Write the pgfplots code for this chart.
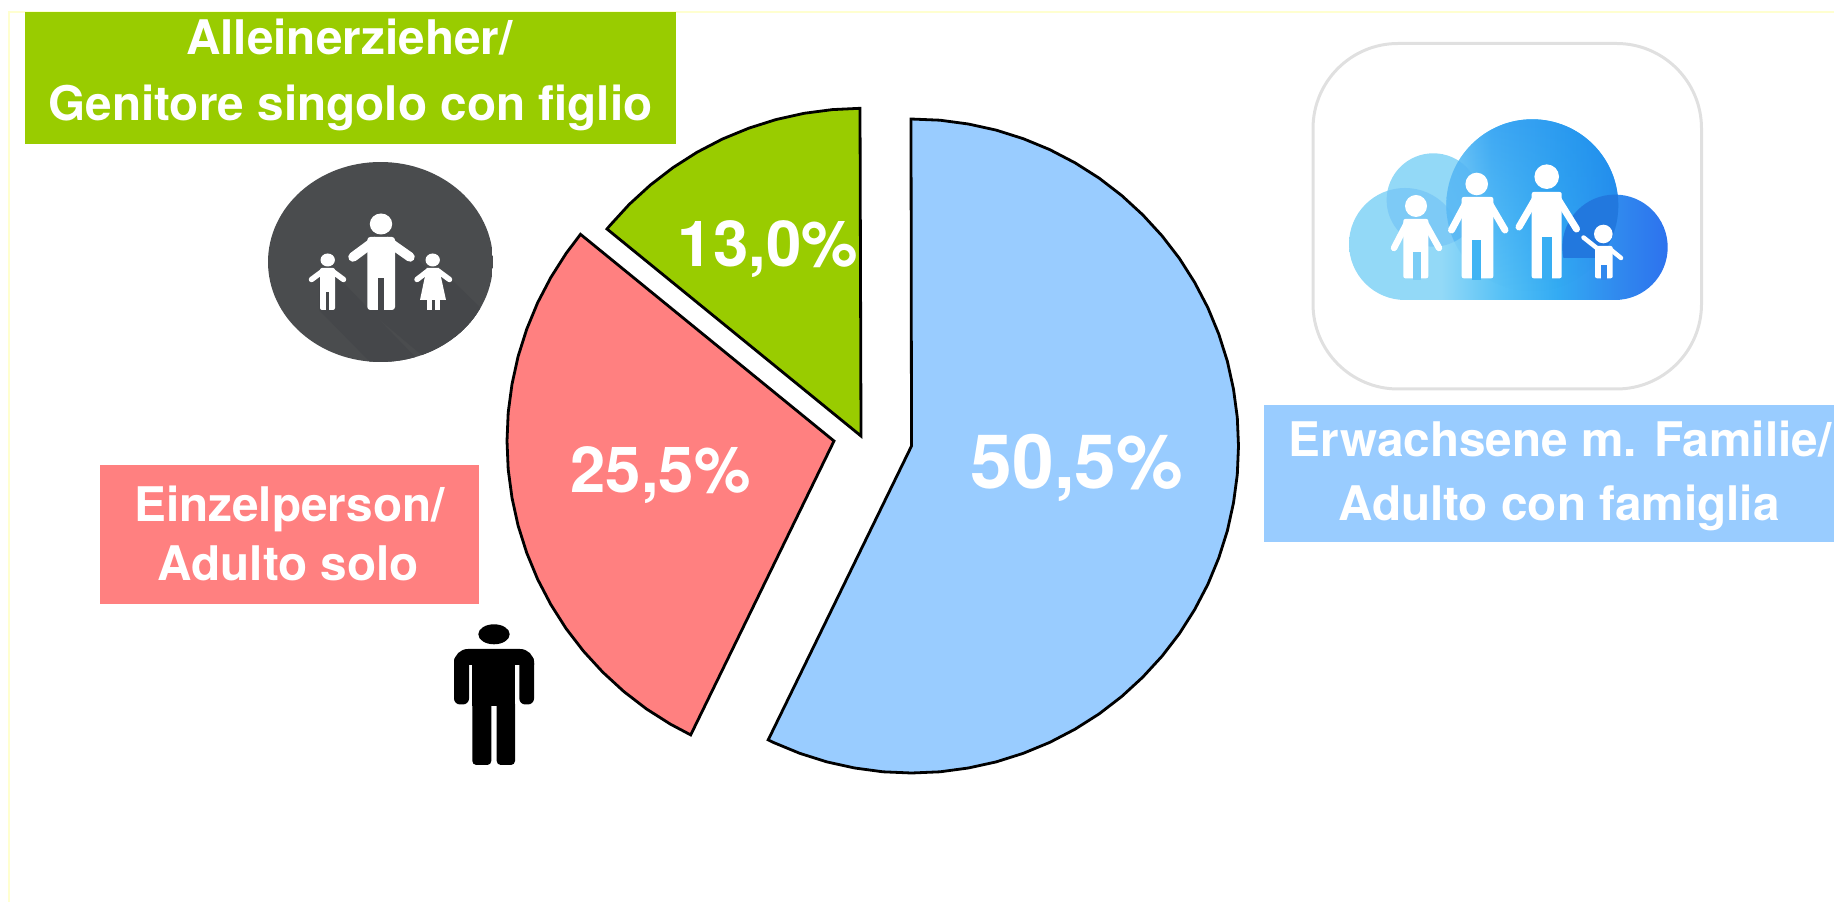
\documentclass[border=0pt]{standalone}
\usepackage{fontspec}
\setmainfont{TeX Gyre Heros}
\usepackage{pgfplots}
\pgfplotsset{compat=1.18}
\usetikzlibrary{fadings}
\definecolor{pgreen}{HTML}{99CC00}
\definecolor{pred}{HTML}{FF8080}
\definecolor{pblue}{HTML}{99CCFF}
\definecolor{framey}{HTML}{FFFFD0}
\definecolor{darkico}{HTML}{4A4C4E}
\definecolor{darkshadow}{HTML}{45474A}
\definecolor{c1}{HTML}{93D9F7}
\definecolor{c2}{HTML}{55C0F6}
\definecolor{c3}{HTML}{33ABF3}
\definecolor{c4}{HTML}{3088EE}
\definecolor{c5}{HTML}{2D72EE}
\definecolor{l1}{HTML}{6CC4F6}
\definecolor{l2}{HTML}{3EA8F3}
\definecolor{l3}{HTML}{1C8FEC}
\definecolor{ov1}{HTML}{7DCAF6}
\definecolor{ov2}{HTML}{55B6F4}
\definecolor{ov3}{HTML}{2278DE}
\definecolor{g1}{HTML}{40B4F4}
\definecolor{g2}{HTML}{38AEF3}
\definecolor{g3}{HTML}{7BCDF6}
\definecolor{g4}{HTML}{3088EE}
\pgfdeclarehorizontalshading{cloudbase}{100bp}{color(0bp)=(c1);color(25bp)=(c1);color(39.4bp)=(c1);color(49.2bp)=(c2);color(57.7bp)=(c3);color(67.5bp)=(c4);color(75bp)=(c5);color(100bp)=(c5)}
\pgfdeclarehorizontalshading{cloudlobe}{100bp}{color(0bp)=(l1);color(25bp)=(l1);color(38bp)=(l2);color(75bp)=(l3);color(100bp)=(l3)}
\tikzfading[name=lobefade,top color=transparent!0,middle color=transparent!5,bottom color=transparent!100]
\newcommand{\lab}{\bfseries\fontsize{47.7}{50}\selectfont}
\newcommand{\pc}{\bfseries\fontsize{63.5}{66}\selectfont}
\newcommand{\pcb}{\bfseries\fontsize{75}{78}\selectfont}
\begin{document}
\begin{tikzpicture}
\useasboundingbox (0,0) rectangle (1834pt,902pt);
\begin{axis}[
  at={(0,0)},anchor=south west,
  scale only axis,width=1834pt,height=902pt,
  xmin=0,xmax=1834,ymin=0,ymax=902,y dir=reverse,
  hide axis,clip=false]
% frame
\addplot[framey,line width=2pt,mark=none] coordinates {(1834,11.5)(9,11.5)(9,902)};
% label boxes
\addplot[fill=pgreen,draw=none,mark=none] coordinates {(24.5,11.7)(676,11.7)(676,144)(24.5,144)} --cycle;
\addplot[fill=pred,draw=none,mark=none] coordinates {(100,465)(479,465)(479,603.5)(100,603.5)} --cycle;
\addplot[fill=pblue,draw=none,mark=none] coordinates {(1264,405)(1834,405)(1834,541.7)(1264,541.7)} --cycle;
% blue wedge
\addplot[fill=pblue,draw=black,line width=2.8pt,mark=none] coordinates {
(911.5,446)(911.0,119)(940,120.2)(968.3,124)(996.1,130.1)(1023.3,138.7)(1049.7,149.6)(1075,162.8)(1099.1,178.1)(1121.7,195.5)(1142.7,214.8)(1162,235.8)(1179.4,258.4)(1194.7,282.5)(1207.9,307.8)(1218.8,334.2)(1227.4,361.4)(1233.5,389.2)(1237.3,417.5)(1238.5,446)(1237.3,474.5)(1233.5,502.8)(1227.4,530.6)(1218.8,557.8)(1207.9,584.2)(1194.7,609.5)(1179.4,633.6)(1162,656.2)(1142.7,677.2)(1121.7,696.5)(1099.1,713.9)(1075,729.2)(1049.7,742.4)(1023.3,753.3)(996.1,761.9)(968.3,768)(940,771.8)(911.5,773)(883,771.8)(854.7,768)(826.9,761.9)(799.7,753.3)(773.3,742.4)(768.2,739.9)} --cycle;
% red wedge
\addplot[fill=pred,draw=black,line width=2.8pt,mark=none] coordinates {
(834,441)(690.7,734.9)(670.5,724.2)(646.4,708.9)(623.8,691.5)(602.8,672.2)(583.5,651.2)(566.1,628.6)(550.8,604.5)(537.6,579.2)(526.7,552.8)(518.1,525.6)(512,497.8)(508.2,469.5)(507,441)(508.2,412.5)(512,384.2)(518.1,356.4)(526.7,329.2)(537.6,302.8)(550.8,277.5)(566.1,253.4)(580.5,234.3)} --cycle;
% green wedge
\addplot[fill=pgreen,draw=black,line width=2.8pt,mark=none] coordinates {
(861,436)(607,229)(610,225.4)(629.3,204.3)(650.4,185)(673,167.6)(697.1,152.2)(722.5,139)(749,128.1)(776.2,119.5)(804.1,113.3)(832.4,109.6)(860,108.3)} --cycle;
% labels
\node[white,anchor=base] at (axis cs:349.5,54.3) {\lab Alleinerzieher/};
\node[white,anchor=base] at (axis cs:350.5,120.7) {\lab Genitore singolo con figlio};
\node[white,anchor=base] at (axis cs:289.5,521.7) {\lab Einzelperson/};
\node[white,anchor=base] at (axis cs:288.5,580) {\lab Adulto solo};
\node[white,anchor=base] at (axis cs:1560,456.7) {\lab Erwachsene m. Familie/};
\node[white,anchor=base] at (axis cs:1559,520) {\lab Adulto con famiglia};
\node[white,anchor=base] at (axis cs:768,266) {\pc 13,0\%};
\node[white,anchor=base] at (axis cs:660.5,492) {\pc 25,5\%};
\node[white,anchor=base] at (axis cs:1077,488) {\pcb 50,5\%};
\end{axis}
\begin{scope}[x=1pt,y=-1pt,yshift=902pt]
% ---- dark icon
\begin{scope}
\clip (380.5,262) ellipse [x radius=112.5,y radius=100];
\fill[darkico] (268,162) rectangle (493,362);
\fill[darkshadow] (368,250) -- (394,238) -- (494,330) -- (430,362) -- (368,310) -- cycle;
\fill[darkshadow] (319,275) -- (336,275) -- (420,362) -- (370,362) -- (319,310) -- cycle;
\fill[darkshadow] (426,275) -- (453,281) -- (493,320) -- (470,350) -- (419,305) -- cycle;
\end{scope}
\fill[white] (381,224) ellipse [x radius=11.2,y radius=10.5];
\draw[white,line width=9.5pt,line cap=round] (353,257) -- (374,241.5);
\draw[white,line width=9.5pt,line cap=round] (410,257) -- (388,241.5);
\fill[white,rounded corners=3pt] (367.3,237) -- (395,237) -- (395,310) -- (367.3,310) -- cycle;
\fill[darkshadow] (378.3,278) rectangle (384,312);
\fill[white] (327.7,260) ellipse [x radius=7.2,y radius=6.5];
\draw[white,line width=5.5pt,line cap=round] (311.5,279.5) -- (323,271);
\draw[white,line width=5.5pt,line cap=round] (343.5,279.5) -- (332,271);
\fill[white,rounded corners=2pt] (320,268) -- (335,268) -- (335,310) -- (320,310) -- cycle;
\fill[darkshadow] (325.7,291.7) rectangle (329.3,312);
\fill[white] (432.7,260) ellipse [x radius=7.2,y radius=6.5];
\draw[white,line width=5.5pt,line cap=round] (417,279.5) -- (428,271);
\draw[white,line width=5.5pt,line cap=round] (449.5,279.5) -- (438,271);
\fill[white] (426.7,268) -- (439,268) -- (446,300) -- (420,300) -- cycle;
\fill[white] (426.5,299) rectangle (431.5,310);
\fill[white] (434.5,299) rectangle (439.5,310);
% ---- black figure
\fill[black] (494,634.3) ellipse [x radius=15.7,y radius=10];
\fill[black] (454,665) [rounded corners=14pt] -- (454,649) -- (534,649) [sharp corners] -- (534,665) -- cycle;
\fill[black,rounded corners=6pt] (454,655) -- (469,655) -- (469,704.5) -- (454,704.5) -- cycle;
\fill[black,rounded corners=6pt] (519.3,655) -- (534,655) -- (534,704.5) -- (519.3,704.5) -- cycle;
\fill[black] (472.3,652) rectangle (515,706);
\fill[black,rounded corners=4pt] (472.3,700) -- (491.3,700) -- (491.3,765) -- (472.3,765) -- cycle;
\fill[black,rounded corners=4pt] (496.7,700) -- (515,700) -- (515,765) -- (496.7,765) -- cycle;
% ---- family icon
\draw[black!12,line width=3pt,rounded corners=85pt] (1313,43.5) -- (1701.5,43.5) -- (1701.5,389) -- (1313,389) -- cycle;
\path[shading=cloudbase]
  (1405,244) circle [radius=56]
  (1615,247.3) circle [radius=52.7]
  (1532.3,205.3) circle [radius=86]
  (1405,200) -- (1615,200) -- (1615,300) -- (1405,300) -- cycle;
\fill[c1] (1433.3,200) circle [radius=46.7];
\begin{scope}
\clip (1405,244) circle [radius=56];
\fill[ov1] (1433.3,200) circle [radius=46.7];
\end{scope}
\path[shading=cloudlobe,path fading=lobefade] (1532.3,205.3) circle [radius=86];
\begin{scope}
\clip (1433.3,200) circle [radius=46.7];
\clip (1532.3,205.3) circle [radius=86];
\fill[ov2,opacity=.75] (1440,119) rectangle (1490,245);
\end{scope}
\begin{scope}
\clip (1532.3,205.3) circle [radius=86];
\clip (1560,100) rectangle (1640,258);
\fill[ov3] (1615,247.3) circle [radius=52.7];
\end{scope}
\begin{scope}[white]
% person 1
\fill (1416,206) circle [radius=11];
\draw[white,line width=6.5pt,line cap=round,line join=round] (1394,248) -- (1407,223) -- (1425,223) -- (1439,248);
\fill[rounded corners=2pt] (1403.3,219) -- (1428.3,219) -- (1428.3,278.3) -- (1403.3,278.3) -- cycle;
% person 2
\fill (1476.7,184) circle [radius=11.3];
\draw[white,line width=7pt,line cap=round,line join=round] (1451.5,230) -- (1467,201) -- (1488,201) -- (1505,230);
\fill[rounded corners=2pt] (1461.7,197) -- (1493.3,197) -- (1493.3,278.3) -- (1461.7,278.3) -- cycle;
% person 3
\fill (1546.7,176.7) circle [radius=12.3];
\draw[white,line width=7pt,line cap=round,line join=round] (1519,227) -- (1537,196) -- (1556,196) -- (1576.5,229);
\fill[rounded corners=2pt] (1531.7,192) -- (1561.7,192) -- (1561.7,278.3) -- (1531.7,278.3) -- cycle;
% child
\fill (1603.3,234) circle [radius=9.3];
\draw[white,line width=4.5pt,line cap=round,line join=round] (1583.5,237.5) -- (1598,249) -- (1610,249) -- (1621,258);
\fill[rounded corners=2pt] (1595,246) -- (1612.7,246) -- (1612.7,278.3) -- (1595,278.3) -- cycle;
\end{scope}
\fill[g1] (1472.3,240) rectangle (1481,280);
\fill[g2] (1542.3,236.7) rectangle (1551.7,280);
\fill[g3] (1413.3,251.7) rectangle (1420.7,280);
\fill[g4] (1600.7,265) rectangle (1606.7,280);
\end{scope}
\end{tikzpicture}
\end{document}
